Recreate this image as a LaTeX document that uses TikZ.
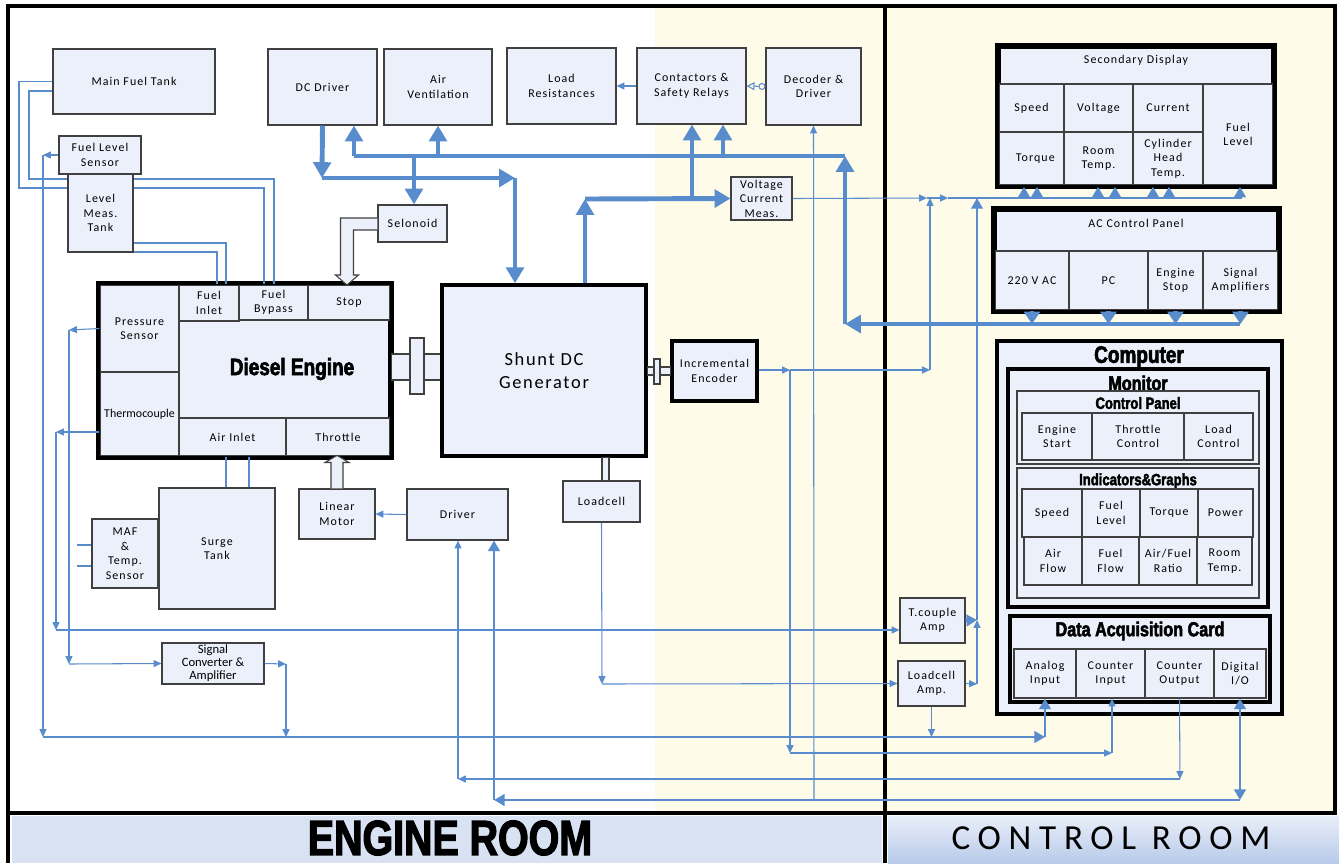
\documentclass[tikz,border=0pt]{standalone}
\usepackage{fontspec}
\usepackage{xcolor}
\usepackage{tikz}
\usetikzlibrary{arrows.meta,positioning}

\newfontfamily\boxfont[LetterSpace=9]{Carlito}
\newfontfamily\plainfont{Carlito}
\newfontfamily\heavyfont[FakeStretch=0.8,FakeBold=2.5]{Liberation Sans Bold}
\newfontfamily\roomfont[LetterSpace=22]{Carlito}

\definecolor{boxfill}{RGB}{236,240,250}
\definecolor{wire}{RGB}{88,140,205}
\definecolor{cream}{RGB}{254,251,233}
\definecolor{band}{RGB}{217,226,243}
\definecolor{bandlow}{RGB}{184,203,234}

\tikzset{
  blk/.style={draw=black!75,fill=boxfill,line width=0.6pt,inner sep=0pt,align=center,
    font=\boxfont\fontsize{6.8}{8.3}\selectfont},
  thickblk/.style={blk,draw=black,line width=2pt},
  ttl/.style={inner sep=0pt,font=\heavyfont},
  lbl/.style={inner sep=0pt,align=center,font=\boxfont\fontsize{6.8}{8.3}\selectfont},
  pwr/.style={draw=wire,line width=2.8pt,-{Triangle[length=9pt,width=10pt]}},
  bus/.style={draw=wire,line width=1.6pt,-{Triangle[length=6pt,width=6.5pt]}},
  sig/.style={draw=wire,line width=0.6pt,-{Triangle[length=4.5pt,width=4pt]}},
  pipe/.style={draw=wire,line width=0.9pt},
  hollow/.style={draw=black!75,fill=boxfill,line width=0.6pt,line join=miter},
  shaft/.style={draw=black!75,fill=boxfill,line width=0.6pt},
}
% box from corner (#2,#3) to corner (#4,#5), named #6, text follows
\newcommand{\blk}[6][]{%
  \node[blk,#1,minimum width={(#4-#2)*0.02cm},minimum height={(#5-#3)*0.02cm}] (#6) at ({(#2+#4)/2},{(#3+#5)/2})}

\begin{document}
\begin{tikzpicture}[x=0.02cm,y=-0.02cm]
  \useasboundingbox (0,0) rectangle (1339,863);
  % rooms
  \fill[cream] (655,6) rectangle (1335,813);
  \fill[band] (12,816) rectangle (882,863);
  \shade[top color=band!60!white,bottom color=bandlow] (888,816) rectangle (1339,863);
  \draw[line width=2.4pt] (8,6) rectangle (1335,813);
  \draw[line width=2.4pt] (8,813) -- (8,863);
  \draw[line width=2.4pt] (885,6) -- (885,863);
  \node[ttl,font=\heavyfont\fontsize{28}{28}\selectfont] (eroom) at (450,838) {ENGINE ROOM};
  \node[inner sep=0pt,font=\roomfont\fontsize{20}{20}\selectfont] (croom) at (1111,838) {CONTROL ROOM};

  % engine room blocks
  \blk{53}{49}{215}{114}{mft} {Main Fuel Tank};
  \blk{268}{49}{377}{125}{dcd} {DC\ Driver};
  \blk{384}{49}{492}{125}{airv} {Air\\Ventilation};
  \blk{507}{48}{616}{124}{lres} {Load\\Resistances};
  \blk{637}{48}{746}{124}{cont} {Contactors \&\\Safety Relays};
  \blk{766}{48}{861}{125}{dec} {Decoder \&\\Driver};
  \blk{59}{136}{141}{174}{fls} {Fuel Level\\Sensor};
  \blk{68}{174}{133}{252}{lmt} {Level\\Meas.\\Tank};
  \blk{378}{205}{447}{242}{sel} {Selonoid};
  \blk{731}{177}{792}{220}{vcm} {Voltage\\Current\\Meas.};

  % diesel engine
  \blk[thickblk]{100}{285}{390}{456}{eng} {};
  \blk{100}{285}{179}{372}{press} {Pressure\\Sensor};
  \blk[font=\plainfont\fontsize{6.8}{8.3}\selectfont]{100}{372}{179}{456}{thermo} {Thermocouple};
  \blk{179}{285}{239}{321}{finl} {Fuel\\Inlet};
  \blk{239}{285}{308}{320}{fbyp} {Fuel\\Bypass};
  \blk{308}{285}{390}{320}{stop} {Stop};
  \blk{179}{418}{286}{456}{ain} {Air Inlet};
  \blk{286}{418}{390}{456}{thr} {Throttle};
  \draw[line width=2pt] (eng.north west) rectangle (eng.south east);
  \node[ttl,font=\heavyfont\fontsize{13.5}{13.5}\selectfont] (dtitle) at (292,369) {Diesel Engine};

  % shafts
  \draw[shaft] (eng.east |- 0,354) rectangle (442,380);
  \draw[shaft] (410,338) rectangle (424,394);
  \blk[thickblk,font=\boxfont\fontsize{10.5}{13}\selectfont]{442}{285}{646}{456}{gen} {Shunt DC\\Generator};
  \blk[thickblk]{672}{341}{757}{401}{enc} {Incremental\\Encoder};
  \draw[shaft] (gen.east |- 0,367) rectangle (enc.west |- 0,375);
  \draw[shaft] (654,359) rectangle (660,384);
  \blk{563}{481}{640}{522}{lc} {Loadcell};
  \draw[shaft] (602,0 |- gen.south) rectangle (609,0 |- lc.north);

  \blk{407}{489}{508}{540}{drv} {Driver};
  \blk{299}{489}{375}{539}{lm} {Linear\\Motor};
  \blk{159}{488}{275}{609}{surge} {Surge\\Tank};
  \blk{92}{519}{158}{588}{maf} {MAF\\\&\\Temp.\\Sensor};
  \blk[font=\plainfont\fontsize{7.2}{7.4}\selectfont]{162}{643}{264}{684}{sca} {Signal\\Converter \&\\Amplifier};

  % hollow arrows
  \draw[hollow] (lm.north) ++(-6,0) -- ++(0,-26) -- ++(-6,0) -- ++(12,-7) -- ++(12,7) -- ++(-6,0) -- ++(0,26);
  \draw[hollow] (sel.west) ++(0,-5.5) -- ++(-37,0) -- ++(0,57) -- ++(-5,0) -- ++(11.5,10) -- ++(11.5,-10) -- ++(-5,0) -- ++(0,-45) -- ++(24,0);

  % control room blocks
  \blk{900}{598}{965}{643}{tca} {T.couple\\Amp};
  \blk{898}{661}{965}{706}{lca} {Loadcell\\Amp.};

  \blk[thickblk]{999}{47}{1273}{185}{sdisp} {};
  \node[lbl] (sdt) at (1136,60) {Secondary Display};
  \blk{999}{84}{1064}{132}{sd1} {Speed};
  \blk{1064}{84}{1133}{132}{sd2} {Voltage};
  \blk{1133}{84}{1203}{132}{sd3} {Current};
  \blk{1203}{84}{1273}{185}{sd4} {Fuel\\Level};
  \blk{999}{132}{1064}{185}{sd5} {\ \ Torque};
  \blk{1064}{132}{1133}{185}{sd6} {Room\\Temp.};
  \blk{1133}{132}{1203}{185}{sd7} {Cylinder\\Head\\Temp.};
  \draw[line width=2pt] (sdisp.north west) rectangle (sdisp.south east);

  \blk[thickblk]{995}{210}{1278}{310}{acp} {};
  \node[lbl] (act) at (1136,223) {AC\ Control Panel};
  \blk{995}{251}{1069}{310}{ac1} {220 V\ AC};
  \blk{1069}{251}{1148}{310}{ac2} {PC};
  \blk{1148}{251}{1203}{310}{ac3} {Engine\\Stop};
  \blk{1203}{251}{1278}{310}{ac4} {Signal\\Amplifiers};
  \draw[line width=2pt] (acp.north west) rectangle (acp.south east);

  % computer
  \blk[thickblk]{997}{341}{1282}{714}{comp} {};
  \node[ttl,font=\heavyfont\fontsize{13.5}{13.5}\selectfont] (compt) at (1139,357) {Computer};
  \blk[thickblk]{1008}{369}{1268}{607}{mon} {};
  \node[ttl,font=\heavyfont\fontsize{11.5}{11.5}\selectfont] (mont) at (1138,383) {Monitor};
  \blk{1017}{391}{1259}{464}{cpan} {};
  \node[ttl,font=\heavyfont\fontsize{9.3}{9.3}\selectfont] (cpant) at (1138,403) {Control Panel};
  \foreach \n/\a/\b/\t in {cp1/1022/1092/{Engine\\Start},cp2/1092/1184/{Throttle\\Control},cp3/1184/1253/{Load\\Control}}
    \blk{\a}{413}{\b}{460}{\n} {\t};
  \blk{1017}{468}{1259}{598}{ind} {};
  \node[ttl,font=\heavyfont\fontsize{9.3}{9.3}\selectfont] (indt) at (1138,481) {Indicators\&Graphs};
  \foreach \n/\a/\b/\t in {ig1/1022/1082/Speed,ig2/1082/1140/{Fuel\\Level},ig3/1140/1198/Torque,ig4/1198/1253/Power}
    \blk{\a}{489}{\b}{537}{\n} {\t};
  \foreach \n/\a/\b/\t in {ig5/1024/1082/{Air\\Flow},ig6/1082/1139/{Fuel\\Flow},ig7/1139/1197/{Air/Fuel\\Ratio},ig8/1197/1252/{Room\\Temp.}}
    \blk{\a}{537}{\b}{585}{\n} {\t};
  \blk[thickblk]{1010}{616}{1270}{702}{daq} {};
  \node[ttl,font=\heavyfont\fontsize{11.5}{11.5}\selectfont] (daqt) at (1140,631) {Data Acquisition Card};
  \foreach \n/\a/\b/\t in {daq1/1014/1076/{Analog\\Input},daq2/1076/1145/{Counter\\Input},daq3/1145/1214/{Counter\\Output},daq4/1214/1266/{Digital\\I/O}}
    \blk{\a}{649}{\b}{698}{\n} {\t};

  % fuel pipes
  \draw[pipe] (mft.west) -| (19,188) -- (lmt.west |- 0,188);
  \draw[pipe] (mft.west |- 0,91) -| (29,179) -- (lmt.west |- 0,179);
  \draw[pipe] (lmt.east |- 0,179) -| (274,0 |- fbyp.north);
  \draw[pipe] (lmt.east |- 0,188) -| (264,0 |- fbyp.north);
  \draw[pipe] (lmt.east |- 0,243) -| (226,0 |- finl.north);
  \draw[pipe] (lmt.east |- 0,252) -| (217,0 |- finl.north);
  \draw[pipe] (226,0 |- ain.south) -- (226,0 |- surge.north);
  \draw[pipe] (249,0 |- ain.south) -- (249,0 |- surge.north);
  \draw[pipe,line width=1.2pt] (maf.west |- 0,545) -- ++(-14,0);
  \draw[pipe,line width=1.2pt] (maf.west |- 0,566) -- ++(-14,0);

  % power lines
  \coordinate (tbl) at (354,156);
  \coordinate (tbs) at (414,156);
  \coordinate (tba) at (438,156);
  \coordinate (tbc) at (723,156);
  \coordinate (tbr) at (845,156);
  \coordinate (j1) at (322,178);
  \coordinate (j2) at (515,178);
  \coordinate (g1) at (585,199);
  \coordinate (g2) at (692,199);
  \coordinate (acl) at (845,324);
  \coordinate (acr) at (1240,324);
  \draw[pwr,-] (tbl) -- (tbr);
  \draw[pwr] (tbl) -- (tbl |- dcd.south);
  \draw[pwr] (tba) -- (airv.south);
  \draw[pwr] (tbc) -- (tbc |- cont.south);
  \draw[pwr] (tbs) -- (tbs |- sel.north);
  \draw[pwr] (acl) -- (tbr);
  \draw[pwr] (acr) -- (acl);
  \foreach \n in {ac1,ac2,ac3,ac4}
    \draw[pwr,-{Triangle[length=7pt,width=9pt]}] (\n.south) -- (\n.south |- acl);
  \draw[pwr] (dcd.south) -- (j1);
  \draw[pwr] (j1) -- (j2);
  \draw[pwr] (j2) -- (j2 |- gen.north);
  \draw[pwr] (g1 |- gen.north) -- (g1);
  \draw[pwr] (g1) -- (vcm.west);
  \draw[pwr] (g2) -- (g2 |- cont.south);

  % display bus
  \coordinate (v1) at (927,198);
  \coordinate (sdl) at (948,198);
  \coordinate (sdr) at (1242,198);
  \draw[sig] (vcm.east) -- (v1);
  \draw[sig] (v1) -- (sdl);
  \draw[bus,-] (sdl) -- (sdr);
  \foreach \x in {1024,1037,1098,1115,1153,1169,1240}
    \draw[bus] (\x,0 |- sdl) -- (\x,0 |- sdisp.south);

  % signal lines
  \draw[sig] (cont.west) -- (lres.east);
  \draw[sig,{Circle[open,length=4pt]}-{Triangle[open,length=4.5pt,width=4.5pt]}] (dec.west) -- (cont.east);
  \draw[sig] (drv.west) -- (lm.east);

  \coordinate (e1) at (790,370);
  \coordinate (e2) at (930,370);
  \coordinate (e3) at (930,198);
  \coordinate (e4) at (790,753);
  \coordinate (e5) at (1112,753);
  \draw[sig] (enc.east |- e1) -- (e1);
  \draw[sig] (e1) -- (e2);
  \draw[sig] (e2) -- (e3);
  \draw[sig] (e1) -- (e4);
  \draw[sig] (e4) -- (e5);
  \draw[sig] (e5) -- (e5 |- daq2.south);

  \coordinate (k1) at (977,620);
  \coordinate (k2) at (977,684);
  \coordinate (k3) at (977,198);
  \draw[sig] (lca.east) -- (k2);
  \draw[sig] (k2) -- (k1);
  \draw[bus] (tca.east) -- (k1);
  \draw[bus,line width=1.2pt] (k1) -- (k3);

  \coordinate (l1) at (602,684);
  \draw[sig] (lc.south) -- (l1);
  \draw[sig] (l1) -- (lca.west);

  \coordinate (b0) at (43,737);
  \coordinate (b1) at (1045,737);
  \draw[sig] (lca.south) -- (lca.south |- b0);
  \draw[bus] (b0) -- (b1);
  \draw[bus] (b1) -- (daq1.south);

  \coordinate (f1) at (43,155);
  \draw[sig] (fls.west) -- (f1);
  \draw[sig] (f1) -- (b0);

  \coordinate (p1) at (69,330);
  \coordinate (p2) at (69,664);
  \coordinate (p3) at (286,664);
  \coordinate (p4) at (286,737);
  \draw[sig] (press.west) -- (p1);
  \draw[sig] (p1) -- (p2);
  \draw[sig] (p2) -- (sca.west);
  \draw[sig] (sca.east) -- (p3);
  \draw[sig] (p3) -- (p4);

  \coordinate (t1) at (56,432);
  \coordinate (t2) at (56,630);
  \draw[sig] (t1 -| thermo.west) -- (t1);
  \draw[sig] (t1) -- (t2);
  \draw[sig] (t2) -- (t2 -| tca.west);

  \coordinate (c1) at (1180,779);
  \coordinate (c2) at (458,779);
  \draw[sig] (daq3.south) -- (c1);
  \draw[sig] (c1) -- (c2);
  \draw[sig] (c2) -- (c2 |- drv.south);

  \coordinate (d1) at (1240,800);
  \coordinate (d2) at (494,800);
  \coordinate (d3) at (814,800);
  \draw[bus,{Triangle[length=6pt,width=6.5pt]}-{Triangle[length=6pt,width=6.5pt]}] (daq4.south) -- (d1);
  \draw[bus] (d1) -- (d2);
  \draw[bus] (d2) -- (d2 |- drv.south);
  \draw[sig] (d3) -- (dec.south);
\end{tikzpicture}
\end{document}
